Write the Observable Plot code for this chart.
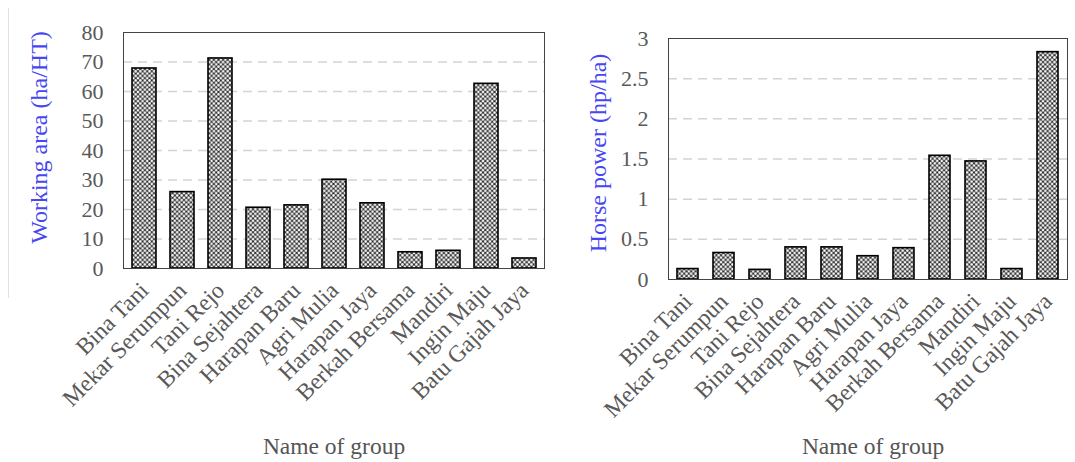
<!DOCTYPE html>
<html>
<head>
<meta charset="utf-8">
<script src="https://cdn.jsdelivr.net/npm/d3@7"></script>
<script src="https://cdn.jsdelivr.net/npm/@observablehq/plot@0.6"></script>
<style>
  html, body { margin: 0; padding: 0; background: #fff; }
  #wrap { position: relative; width: 1075px; height: 462px; overflow: hidden; background: #fff; }
  #left, #right { position: absolute; top: 0; }
  #left { left: 0; }
  #right { left: 560px; }
  #edge { position: absolute; left: 8px; top: 8px; width: 0; height: 290px; border-left: 1px solid #e2e2e2; }
  svg text { font-family: 'Liberation Serif', 'Times New Roman', serif; }
</style>
</head>
<body>
<div id="wrap"><div id="edge"></div><div id="left"></div><div id="right"></div></div>
<script>
const groups = ["Bina Tani", "Mekar Serumpun", "Tani Rejo", "Bina Sejahtera", "Harapan Baru", "Agri Mulia", "Harapan Jaya", "Berkah Bersama", "Mandiri", "Ingin Maju", "Batu Gajah Jaya"];
const workingArea = [67.8, 25.9, 71.2, 20.6, 21.4, 30.1, 22.1, 5.5, 6.0, 62.6, 3.4];
const horsePower = [0.13, 0.33, 0.12, 0.40, 0.40, 0.29, 0.39, 1.54, 1.47, 0.13, 2.83];
const leftTicks = [0, 10, 20, 30, 40, 50, 60, 70, 80];
const rightTicks = [0, 0.5, 1, 1.5, 2, 2.5, 3];
const leftLabel = "Working area (ha/HT)";
const rightLabel = "Horse power (hp/ha)";
const xLabel = "Name of group";

const font = "Liberation Serif";
const tickColor = "#595959";
const blue = "#4646f5";

function addPattern(svg, id) {
  const ns = "http://www.w3.org/2000/svg";
  const defs = document.createElementNS(ns, "defs");
  const p = document.createElementNS(ns, "pattern");
  p.setAttribute("id", id);
  p.setAttribute("patternUnits", "userSpaceOnUse");
  p.setAttribute("width", "4.6");
  p.setAttribute("height", "4.6");
  const r = document.createElementNS(ns, "rect");
  r.setAttribute("width", "4.6"); r.setAttribute("height", "4.6"); r.setAttribute("fill", "#2b2b2b");
  p.appendChild(r);
  for (const [cx, cy] of [[0,0],[4.6,0],[0,4.6],[4.6,4.6],[2.3,2.3]]) {
    const c = document.createElementNS(ns, "circle");
    c.setAttribute("cx", cx); c.setAttribute("cy", cy); c.setAttribute("r", "1.35"); c.setAttribute("fill", "#f6f6f6");
    p.appendChild(c);
  }
  defs.appendChild(p);
  svg.insertBefore(defs, svg.firstChild);
}

function makeChart({values, ticks, domain, label, width, marginLeft, marginRight, marginTop, marginBottom, paddingInner, paddingOuter, labelDx, labelDy, xdx, xdy, pid}) {
  const data = groups.map((g, i) => ({group: g, value: values[i]}));
  const chart = Plot.plot({
    width, height: 462,
    marginLeft, marginRight, marginTop, marginBottom,
    style: {fontFamily: font, background: "transparent"},
    x: {domain: groups, paddingInner, paddingOuter},
    y: {domain},
    marks: [
      Plot.gridY(ticks.filter(t => t > domain[0] && t < domain[1]), {stroke: "#d3d3d3", strokeOpacity: 1, strokeWidth: 1.5, strokeDasharray: "9,6"}),
      Plot.barY(data, {x: "group", y: "value", fill: `url(#${pid})`, stroke: "#000", strokeWidth: 1.6}),
      Plot.frame({stroke: "#444", strokeWidth: 1}),
      Plot.axisY({ticks, tickSize: 0, tickPadding: 20, fontSize: 22, fontFamily: font, color: tickColor, label: null, tickFormat: d => String(d)}),
      Plot.axisX({tickSize: 0, tickPadding: 18, tickRotate: -45, fontSize: 23.5, fontFamily: font, color: tickColor, label: null}),
      Plot.text([label], {text: d => d, frameAnchor: "left", textAnchor: "middle", lineAnchor: "middle", rotate: -90, dx: labelDx, dy: labelDy, fontSize: 24, fontFamily: font, fill: blue}),
      Plot.text([xLabel], {text: d => d, frameAnchor: "bottom", textAnchor: "middle", lineAnchor: "middle", dx: xdx, dy: xdy, fontSize: 23.5, fontFamily: font, fill: "#555"})
    ]
  });
  addPattern(chart, pid);
  return chart;
}

document.getElementById("left").appendChild(makeChart({
  values: workingArea, ticks: leftTicks, domain: [0, 80], label: leftLabel,
  width: 560, marginLeft: 123, marginRight: 16, marginTop: 32, marginBottom: 194, paddingInner: 0.37, paddingOuter: 0.2,
  labelDx: -84, labelDy: -13, xdx: 0, xdy: 178, pid: "hatchL"
}));
document.getElementById("right").appendChild(makeChart({
  values: horsePower, ticks: rightTicks, domain: [0, 3], label: rightLabel,
  width: 515, marginLeft: 108, marginRight: 8, marginTop: 38, marginBottom: 183, paddingInner: 0.42, paddingOuter: 0.23,
  labelDx: -70, labelDy: -6, xdx: 5, xdy: 167, pid: "hatchR"
}));
</script>
</body>
</html>
